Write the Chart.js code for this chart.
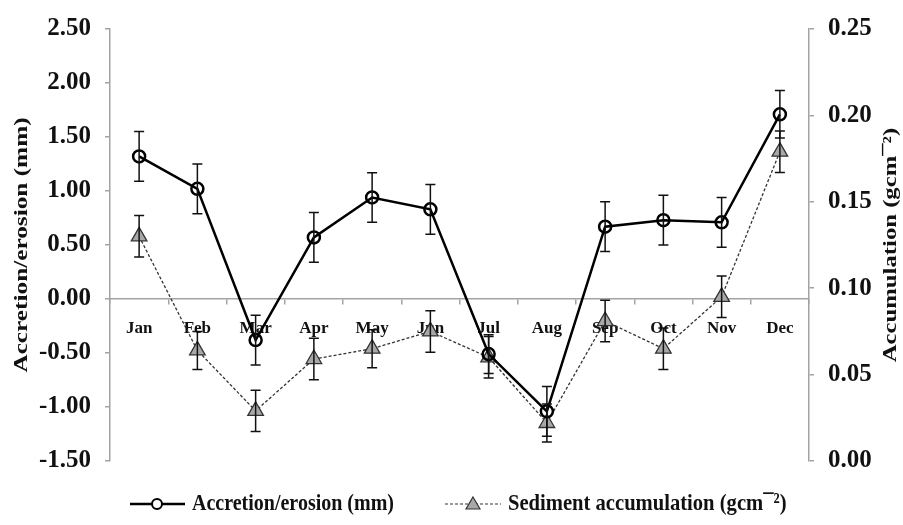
<!DOCTYPE html>
<html>
<head>
<meta charset="utf-8">
<script src="https://cdn.jsdelivr.net/npm/chart.js@4.4.0/dist/chart.umd.min.js"></script>
<style>
  html, body { margin: 0; padding: 0; background: #fff; }
  #wrap { width: 903px; height: 525px; position: relative; }
</style>
</head>
<body>
<div id="wrap"><canvas id="chartAccretion"></canvas></div>
<script>
// data
const months = ['Jan', 'Feb', 'Mar', 'Apr', 'May', 'Jun', 'Jul', 'Aug', 'Sep', 'Oct', 'Nov', 'Dec']
const accretion = [1.32, 1.02, -0.38, 0.57, 0.94, 0.83, -0.51, -1.04, 0.67, 0.73, 0.71, 1.71]
const accretionErr = [0.23, 0.23, 0.23, 0.23, 0.23, 0.23, 0.18, 0.23, 0.23, 0.23, 0.23, 0.22]
const sediment = [0.130, 0.064, 0.029, 0.059, 0.065, 0.075, 0.060, 0.022, 0.081, 0.065, 0.095, 0.179]
const sedimentErr = [0.012, 0.011, 0.012, 0.012, 0.011, 0.012, 0.012, 0.011, 0.012, 0.012, 0.012, 0.012]
const leftTicks = [-1.5, -1.0, -0.5, 0, 0.5, 1.0, 1.5, 2.0, 2.5]
const rightTicks = [0, 0.05, 0.10, 0.15, 0.20, 0.25]

const FONT = "'Liberation Serif', 'Times New Roman', serif"
const AXIS = '#a3a3a3'
const INK = '#111'

// vertical error bars with caps
const errorBars = {
    id: 'errorBars',
    afterDatasetsDraw(chart) {
        const ctx = chart.ctx
        chart.data.datasets.forEach((ds, i) => {
            const meta = chart.getDatasetMeta(i)
            const ys = chart.scales[ds.yAxisID]
            meta.data.forEach((pt, j) => {
                const top = ys.getPixelForValue(ds.data[j] + ds.errors[j])
                const bot = ys.getPixelForValue(ds.data[j] - ds.errors[j])
                ctx.save()
                ctx.strokeStyle = '#111'
                ctx.lineWidth = 1.5
                ctx.beginPath()
                ctx.moveTo(pt.x, top); ctx.lineTo(pt.x, bot)
                ctx.moveTo(pt.x - 5, top); ctx.lineTo(pt.x + 5, top)
                ctx.moveTo(pt.x - 5, bot); ctx.lineTo(pt.x + 5, bot)
                ctx.stroke()
                ctx.restore()
            })
        })
    },
}

// the source figure is a little stretched vertically, so text gets stretched too
function tallText(ctx, text, x, y, sx, sy, rotate) {
    ctx.save()
    ctx.translate(x, y)
    if (rotate) ctx.rotate(-Math.PI / 2)
    ctx.scale(sx, sy)
    ctx.fillText(text, 0, 0)
    ctx.restore()
}

// axis titles (both read bottom to top) and bottom legend
const decorations = {
    id: 'decorations',
    afterDraw(chart) {
        const ctx = chart.ctx
        const area = chart.chartArea
        const midY = (area.top + area.bottom) / 2
        ctx.save()
        ctx.fillStyle = INK
        ctx.font = 'bold 19px ' + FONT
        ctx.textAlign = 'center'
        ctx.textBaseline = 'middle'
        tallText(ctx, 'Accretion/erosion (mm)', 22, midY, 1.33, 1, true)
        tallText(ctx, 'Accumulation (gcm\u00AF\u00B2)', 891, midY, 1.3, 1, true)
        ctx.restore()

        // legend
        const ly = 504
        ctx.save()
        ctx.strokeStyle = '#000'
        ctx.lineWidth = 2.5
        ctx.beginPath(); ctx.moveTo(130, ly); ctx.lineTo(185, ly); ctx.stroke()
        ctx.fillStyle = '#fff'
        ctx.lineWidth = 2
        ctx.beginPath(); ctx.arc(157, ly, 5, 0, Math.PI * 2); ctx.fill(); ctx.stroke()

        ctx.strokeStyle = '#333'
        ctx.lineWidth = 1.2
        ctx.setLineDash([3, 2])
        ctx.beginPath(); ctx.moveTo(445, ly); ctx.lineTo(501, ly); ctx.stroke()
        ctx.setLineDash([])
        ctx.fillStyle = '#a8a8a8'
        ctx.beginPath()
        ctx.moveTo(473, ly - 7); ctx.lineTo(480, ly + 5); ctx.lineTo(466, ly + 5); ctx.closePath()
        ctx.fill(); ctx.stroke()

        ctx.fillStyle = INK
        ctx.font = 'bold 20px ' + FONT
        ctx.textAlign = 'left'
        ctx.textBaseline = 'middle'
        tallText(ctx, 'Accretion/erosion (mm)', 192, ly, 1, 1.2, false)
        tallText(ctx, 'Sediment accumulation (gcm\u00AF\u00B2)', 508, ly, 1.03, 1.2, false)
        ctx.restore()
    },
}

const data = {
    labels: months,
    datasets: [
        {
            label: 'Accretion/erosion (mm)',
            data: accretion,
            errors: accretionErr,
            yAxisID: 'y',
            borderColor: '#000',
            borderWidth: 2.5,
            pointStyle: 'circle',
            pointRadius: 6,
            pointBorderWidth: 2.5,
            pointBackgroundColor: 'rgba(255,255,255,0)',
            pointBorderColor: '#000',
            tension: 0,
        },
        {
            label: 'Sediment accumulation (gcm\u00AF\u00B2)',
            data: sediment,
            errors: sedimentErr,
            yAxisID: 'y1',
            borderColor: '#333',
            borderWidth: 1.3,
            borderDash: [3, 2],
            pointStyle: 'triangle',
            pointRadius: 9,
            pointBorderWidth: 1.3,
            pointBackgroundColor: '#a8a8a8',
            pointBorderColor: '#333',
            tension: 0,
        },
    ],
}

const config = {
    type: 'line',
    data: data,
    plugins: [errorBars, decorations],
    options: {
        responsive: true,
        maintainAspectRatio: false,
        animation: false,
        layout: { padding: { top: 29, bottom: 64, left: 0, right: 0 } },
        plugins: { legend: { display: false }, tooltip: { enabled: false } },
        scales: {
            x: {
                type: 'category',
                offset: true,
                position: { y: 0 },
                grid: { offset: true, drawOnChartArea: false, drawTicks: true, tickLength: 5, color: AXIS, lineWidth: 1.5 },
                border: { color: AXIS, width: 1.5 },
                ticks: { color: INK, padding: 14, maxRotation: 0, font: { family: FONT, size: 17, weight: 'bold' } },
            },
            y: {
                position: 'left',
                min: -1.5,
                max: 2.5,
                afterBuildTicks: (s) => { s.ticks = leftTicks.map((v) => ({ value: v })) },
                afterFit: (s) => { s.width = 110 },
                grid: { drawOnChartArea: false, drawTicks: true, tickLength: 5, color: AXIS, lineWidth: 1.5 },
                border: { color: AXIS, width: 1.5 },
                ticks: { color: INK, padding: 14, callback: (v) => Number(v).toFixed(2), font: { family: FONT, size: 25, weight: 'bold' } },
            },
            y1: {
                position: 'right',
                min: 0,
                max: 0.25,
                afterBuildTicks: (s) => { s.ticks = rightTicks.map((v) => ({ value: v })) },
                afterFit: (s) => { s.width = 94 },
                grid: { drawOnChartArea: false, drawTicks: true, tickLength: 5, color: AXIS, lineWidth: 1.5 },
                border: { color: AXIS, width: 1.5 },
                ticks: { color: INK, padding: 14, callback: (v) => Number(v).toFixed(2), font: { family: FONT, size: 25, weight: 'bold' } },
            },
        },
    },
}

new Chart(document.getElementById('chartAccretion'), config)
</script>
</body>
</html>
